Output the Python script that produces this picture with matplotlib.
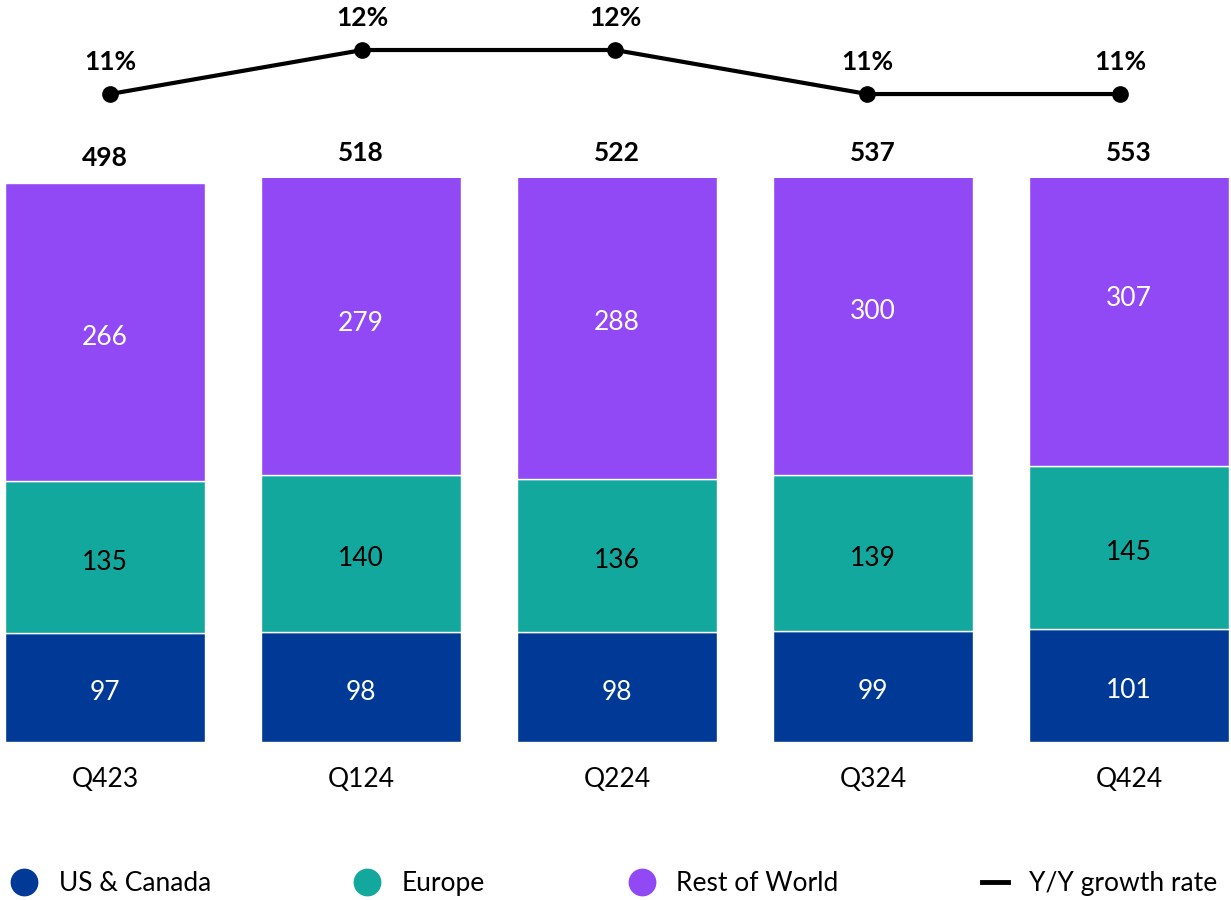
import numpy as np
import matplotlib.pyplot as plt
from matplotlib.lines import Line2D

plt.rcParams['font.family'] = ['Lato', 'DejaVu Sans']

quarters = ['Q423', 'Q124', 'Q224', 'Q324', 'Q424']
us_canada = [97, 98, 98, 99, 101]
europe = [135, 140, 136, 139, 145]
rest_of_world = [266, 279, 288, 300, 307]
totals = [498, 518, 522, 537, 553]
growth = [11, 12, 12, 11, 11]

c_us = '#003A96'
c_eu = '#13A89E'
c_row = '#9149F5'

fig = plt.figure(figsize=(12.31, 9), dpi=100)

# bar axes (top clipped on purpose, like the original)
ax = fig.add_axes([0, 0.1756, 1, 0.6263])
x = np.arange(len(quarters))
w = 0.78125
us = np.array(us_canada)
eu = np.array(europe)
row = np.array(rest_of_world)

ax.bar(x, us, w, color=c_us, edgecolor='white', linewidth=1)
ax.bar(x, eu, w, bottom=us, color=c_eu, edgecolor='white', linewidth=1)
ax.bar(x, row, w, bottom=us + eu, color=c_row, edgecolor='white', linewidth=1)
ax.set_xlim(-0.41, 4.398)
ax.set_ylim(0, 502)

fs = 19
lbl = dict(ha='center', va='center_baseline', fontsize=fs,
           xytext=(0, -2), textcoords='offset points')
for i in range(len(quarters)):
    ax.annotate(str(us[i]), (x[i], us[i] / 2), color='white', **lbl)
    ax.annotate(str(eu[i]), (x[i], us[i] + eu[i] / 2), color='black', **lbl)
    ax.annotate(str(row[i]), (x[i], us[i] + eu[i] + row[i] / 2), color='white', **lbl)
    top = min(totals[i], 502)
    ax.annotate(str(totals[i]), (x[i], top), xytext=(0, 18), textcoords='offset points',
                ha='center', va='center', fontsize=fs, fontweight='bold', annotation_clip=False)

ax.set_xticks(x)
ax.set_xticklabels(quarters, fontsize=fs)
ax.tick_params(axis='x', length=0, pad=18)
ax.set_yticks([])
for s in ax.spines.values():
    s.set_visible(False)

# growth line axes
ax2 = fig.add_axes([0, 0.8444, 1, 0.1556])
ax2.plot(x, growth, color='black', linewidth=3, marker='o', markersize=11)
ax2.set_xlim(-0.4356, 4.4396)
ax2.set_ylim(9.955, 13.136)
for i, g in enumerate(growth):
    ax2.annotate(f'{g}%', (x[i], g), xytext=(0, 23), textcoords='offset points',
                 ha='center', va='center', fontsize=fs, fontweight='bold')
ax2.axis('off')

handles = [
    Line2D([], [], marker='o', linestyle='none', color=c_us, markersize=19),
    Line2D([], [], marker='o', linestyle='none', color=c_eu, markersize=19),
    Line2D([], [], marker='o', linestyle='none', color=c_row, markersize=19),
    Line2D([], [], color='black', linewidth=3.5),
]
labels = ['US & Canada', 'Europe', 'Rest of World', 'Y/Y growth rate']
fig.legend(handles, labels, loc='lower left', bbox_to_anchor=(-0.006, -0.016, 1.01, 0.05),
           ncol=4, mode='expand', frameon=False, fontsize=fs, handlelength=1.0,
           handletextpad=0.8, borderaxespad=0.3)

fig.savefig('out.png', dpi=100)
